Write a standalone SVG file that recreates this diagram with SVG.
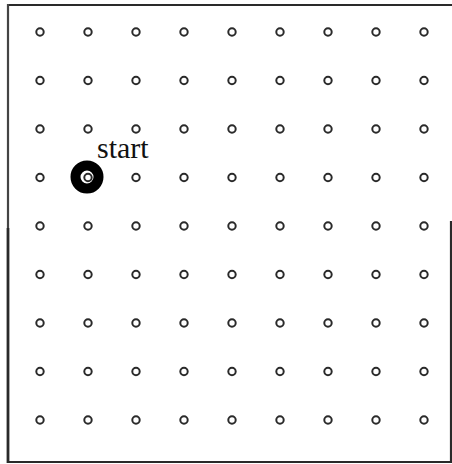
<svg xmlns="http://www.w3.org/2000/svg" width="452" height="464" viewBox="0 0 452 464">
<style>
.wall{stroke:#2a2a2a;stroke-width:2.2;fill:none}
.pt{fill:none;stroke:#2a2a2a;stroke-width:2}
.lbl{font-family:"Liberation Serif","Times New Roman",serif;font-size:30px;fill:#111}
</style>
<rect width="452" height="464" fill="#fff"/>
<g id="walls">
<line class="wall" x1="7" y1="5" x2="452" y2="5"/>
<line class="wall" x1="8" y1="4" x2="8" y2="228" style="stroke:#444;stroke-width:2.2"/>
<line class="wall" x1="8" y1="228" x2="8" y2="463" style="stroke-width:2.8"/>
<line class="wall" x1="7" y1="462" x2="452" y2="462"/>
<line class="wall" x1="451" y1="221" x2="451" y2="463"/>
</g>
<g id="grid">
<g id="r0"><circle class="pt" cx="40" cy="32" r="3.7"/><circle class="pt" cx="88" cy="32" r="3.7"/><circle class="pt" cx="136" cy="32" r="3.7"/><circle class="pt" cx="184" cy="32" r="3.7"/><circle class="pt" cx="232" cy="32" r="3.7"/><circle class="pt" cx="280" cy="32" r="3.7"/><circle class="pt" cx="328" cy="32" r="3.7"/><circle class="pt" cx="376" cy="32" r="3.7"/><circle class="pt" cx="424" cy="32" r="3.7"/></g>
<g id="r1"><circle class="pt" cx="40" cy="80.5" r="3.7"/><circle class="pt" cx="88" cy="80.5" r="3.7"/><circle class="pt" cx="136" cy="80.5" r="3.7"/><circle class="pt" cx="184" cy="80.5" r="3.7"/><circle class="pt" cx="232" cy="80.5" r="3.7"/><circle class="pt" cx="280" cy="80.5" r="3.7"/><circle class="pt" cx="328" cy="80.5" r="3.7"/><circle class="pt" cx="376" cy="80.5" r="3.7"/><circle class="pt" cx="424" cy="80.5" r="3.7"/></g>
<g id="r2"><circle class="pt" cx="40" cy="129" r="3.7"/><circle class="pt" cx="88" cy="129" r="3.7"/><circle class="pt" cx="136" cy="129" r="3.7"/><circle class="pt" cx="184" cy="129" r="3.7"/><circle class="pt" cx="232" cy="129" r="3.7"/><circle class="pt" cx="280" cy="129" r="3.7"/><circle class="pt" cx="328" cy="129" r="3.7"/><circle class="pt" cx="376" cy="129" r="3.7"/><circle class="pt" cx="424" cy="129" r="3.7"/></g>
<g id="r3"><circle class="pt" cx="40" cy="177.5" r="3.7"/><circle class="pt" cx="88" cy="177.5" r="3.7"/><circle class="pt" cx="136" cy="177.5" r="3.7"/><circle class="pt" cx="184" cy="177.5" r="3.7"/><circle class="pt" cx="232" cy="177.5" r="3.7"/><circle class="pt" cx="280" cy="177.5" r="3.7"/><circle class="pt" cx="328" cy="177.5" r="3.7"/><circle class="pt" cx="376" cy="177.5" r="3.7"/><circle class="pt" cx="424" cy="177.5" r="3.7"/></g>
<g id="r4"><circle class="pt" cx="40" cy="226" r="3.7"/><circle class="pt" cx="88" cy="226" r="3.7"/><circle class="pt" cx="136" cy="226" r="3.7"/><circle class="pt" cx="184" cy="226" r="3.7"/><circle class="pt" cx="232" cy="226" r="3.7"/><circle class="pt" cx="280" cy="226" r="3.7"/><circle class="pt" cx="328" cy="226" r="3.7"/><circle class="pt" cx="376" cy="226" r="3.7"/><circle class="pt" cx="424" cy="226" r="3.7"/></g>
<g id="r5"><circle class="pt" cx="40" cy="274.5" r="3.7"/><circle class="pt" cx="88" cy="274.5" r="3.7"/><circle class="pt" cx="136" cy="274.5" r="3.7"/><circle class="pt" cx="184" cy="274.5" r="3.7"/><circle class="pt" cx="232" cy="274.5" r="3.7"/><circle class="pt" cx="280" cy="274.5" r="3.7"/><circle class="pt" cx="328" cy="274.5" r="3.7"/><circle class="pt" cx="376" cy="274.5" r="3.7"/><circle class="pt" cx="424" cy="274.5" r="3.7"/></g>
<g id="r6"><circle class="pt" cx="40" cy="323" r="3.7"/><circle class="pt" cx="88" cy="323" r="3.7"/><circle class="pt" cx="136" cy="323" r="3.7"/><circle class="pt" cx="184" cy="323" r="3.7"/><circle class="pt" cx="232" cy="323" r="3.7"/><circle class="pt" cx="280" cy="323" r="3.7"/><circle class="pt" cx="328" cy="323" r="3.7"/><circle class="pt" cx="376" cy="323" r="3.7"/><circle class="pt" cx="424" cy="323" r="3.7"/></g>
<g id="r7"><circle class="pt" cx="40" cy="371.5" r="3.7"/><circle class="pt" cx="88" cy="371.5" r="3.7"/><circle class="pt" cx="136" cy="371.5" r="3.7"/><circle class="pt" cx="184" cy="371.5" r="3.7"/><circle class="pt" cx="232" cy="371.5" r="3.7"/><circle class="pt" cx="280" cy="371.5" r="3.7"/><circle class="pt" cx="328" cy="371.5" r="3.7"/><circle class="pt" cx="376" cy="371.5" r="3.7"/><circle class="pt" cx="424" cy="371.5" r="3.7"/></g>
<g id="r8"><circle class="pt" cx="40" cy="420" r="3.7"/><circle class="pt" cx="88" cy="420" r="3.7"/><circle class="pt" cx="136" cy="420" r="3.7"/><circle class="pt" cx="184" cy="420" r="3.7"/><circle class="pt" cx="232" cy="420" r="3.7"/><circle class="pt" cx="280" cy="420" r="3.7"/><circle class="pt" cx="328" cy="420" r="3.7"/><circle class="pt" cx="376" cy="420" r="3.7"/><circle class="pt" cx="424" cy="420" r="3.7"/></g>
</g>
<g id="start">
<circle cx="87" cy="177" r="11.5" fill="none" stroke="#000" stroke-width="10"/>
<text class="lbl" x="97" y="158">start</text>
</g>
</svg>
